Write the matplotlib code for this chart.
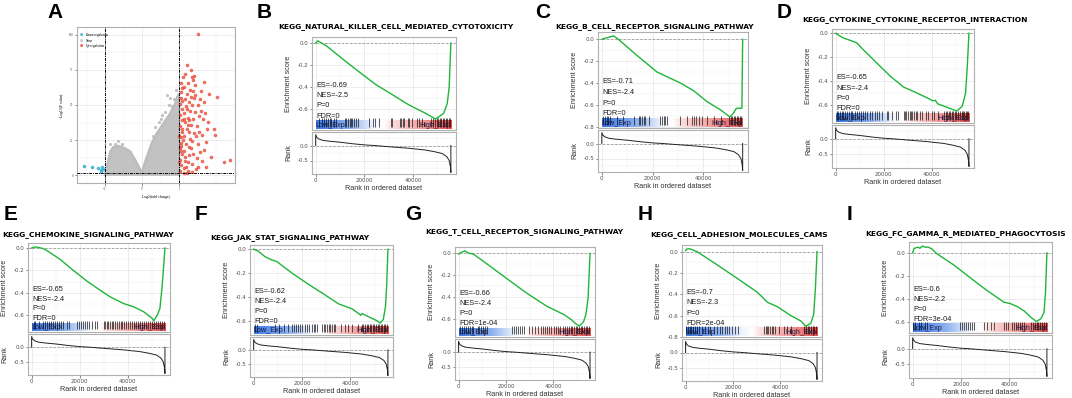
import matplotlib
matplotlib.use("Agg")
import matplotlib.pyplot as plt
import numpy as np
from matplotlib.colors import LinearSegmentedColormap
from matplotlib.ticker import FixedLocator, MultipleLocator, FuncFormatter

W, H = 1072, 398
N_GENES = 55500
XLIM = (-1500, 57600)

# ---------------- panel A: volcano ----------------
# outline of the dense grey "None" cloud (log2FC, -log10 P)
none_outline_x = [-1.0, -0.95, -0.86, -0.78, -0.64, -0.46, -0.32, -0.19, -0.07, 0.0,
                  0.04, 0.13, 0.26, 0.40, 0.58, 0.76, 0.89, 0.98, 1.0, 1.0, -1.0]
none_outline_y = [0.7, 5.9, 16.7, 19.8, 20.7, 19.0, 16.7, 10.7, 4.8, 1.7,
                  5.9, 13.0, 22.6, 29.8, 36.9, 44.0, 51.0, 57.0, 58.0, 0.3, 0.3]
none_x = [0.53, 0.67, 0.76, 0.85, 0.35, -0.64, -0.86, 0.91, 0.95, 0.45, 0.62, -0.72, 0.2,
          0.30, 0.72, 0.50, 0.82, -0.55, -0.90, 0.10]
none_y = [43, 57, 55, 54, 34.5, 24.5, 22, 61, 56, 38, 45, 22, 19,
          28, 50, 40, 49, 22, 13, 11]

up_x = [1.02, 1.05, 1.03, 1.08, 1.02, 1.06, 1.04, 1.09, 1.02, 1.07, 1.03, 1.08, 1.02, 1.05,
        1.04, 1.09, 1.12, 1.15, 1.13, 1.18, 1.14, 1.20, 1.16, 1.12, 1.19, 1.15, 1.22, 1.13,
        1.25, 1.24, 1.28, 1.26, 1.30, 1.27, 1.32, 1.25, 1.30, 1.27, 1.33, 1.29, 1.24, 1.36,
        1.38, 1.35, 1.40, 1.37, 1.42, 1.36, 1.40, 1.38, 1.44, 1.21, 1.31, 1.39, 1.38, 1.66,
        1.44, 1.52, 2.02, 1.79, 1.93, 1.75, 1.97, 1.72, 2.20, 2.38, 1.72, 1.52, 1.57, 1.61,
        1.48, 1.50, 1.47, 1.53, 1.50, 1.56, 1.60, 1.64, 1.55, 1.46, 1.62, 1.58, 1.68, 1.70,
        1.66, 1.10, 1.17, 1.06, 1.34, 1.45, 1.85, 1.80, 1.12, 1.20, 1.35,
        1.01, 1.04, 1.07, 1.11, 1.14, 1.17, 1.21, 1.23, 1.09, 1.01, 1.06, 1.19, 1.28, 1.33]
up_y = [3, 7, 11, 15, 19, 23, 27, 31, 35, 39, 43, 47, 51, 55,
        59, 62, 5, 10, 17, 22, 28, 33, 38, 44, 49, 54, 58, 63,
        3, 9, 14, 20, 26, 31, 36, 41, 46, 52, 56, 61, 66, 8,
        15, 24, 30, 40, 45, 50, 55, 60, 64, 78.6, 75, 71, 68, 66.7,
        57, 101, 55.9, 38, 33, 33, 28.6, 23.8, 9.5, 10.7, 5.9, 6, 16.7, 28.6,
        12, 22, 35, 42, 50, 54, 46, 40, 31, 4, 10, 60, 52, 44,
        18, 70, 72, 66, 70, 28, 13, 58, 1.5, 1.5, 2,
        9, 21, 33, 25, 40, 13, 47, 36, 53, 28, 17, 6, 39, 19]
down_x = [-1.57, -1.35, -1.19, -1.12, -1.08, -1.06, -1.10]
down_y = [6.4, 5.7, 5.0, 3.6, 6.0, 4.3, 2.5]

# ---------------- GSEA panels B..I ----------------
gsea_keys = ["B", "C", "D", "E", "F", "G", "H", "I"]
titles = {
    "B": "KEGG_NATURAL_KILLER_CELL_MEDIATED_CYTOTOXICITY",
    "C": "KEGG_B_CELL_RECEPTOR_SIGNALING_PATHWAY",
    "D": "KEGG_CYTOKINE_CYTOKINE_RECEPTOR_INTERACTION",
    "E": "KEGG_CHEMOKINE_SIGNALING_PATHWAY",
    "F": "KEGG_JAK_STAT_SIGNALING_PATHWAY",
    "G": "KEGG_T_CELL_RECEPTOR_SIGNALING_PATHWAY",
    "H": "KEGG_CELL_ADHESION_MOLECULES_CAMS",
    "I": "KEGG_FC_GAMMA_R_MEDIATED_PHAGOCYTOSIS",
}
stats = {
    "B": ["ES=-0.69", "NES=-2.5", "P=0", "FDR=0"],
    "C": ["ES=-0.71", "NES=-2.4", "P=0", "FDR=0"],
    "D": ["ES=-0.65", "NES=-2.4", "P=0", "FDR=0"],
    "E": ["ES=-0.65", "NES=-2.4", "P=0", "FDR=0"],
    "F": ["ES=-0.62", "NES=-2.4", "P=0", "FDR=0"],
    "G": ["ES=-0.66", "NES=-2.4", "P=0", "FDR=1e-04"],
    "H": ["ES=-0.7", "NES=-2.3", "P=0", "FDR=2e-04"],
    "I": ["ES=-0.6", "NES=-2.2", "P=0", "FDR=3e-04"],
}
# running enrichment score, (rank in thousands, ES)
es_curves = {
    "B": [(0, 0), (0.9, 0.02), (4.4, -0.025), (11.2, -0.147), (17.9, -0.263), (24.6, -0.376),
          (31.4, -0.468), (38.1, -0.56), (44.9, -0.636), (49.2, -0.69), (52.5, -0.64),
          (54.0, -0.55), (54.8, -0.40), (55.5, 0.0)],
    "C": [(0, 0), (1.5, 0.01), (3.0, 0.02), (4.6, 0.031), (6.5, 0.0), (13.8, -0.147),
          (21.8, -0.30), (31.0, -0.40), (36.2, -0.47), (41.5, -0.57), (46.8, -0.645),
          (50.5, -0.71), (52.0, -0.67), (53.0, -0.63), (55.2, -0.63), (55.5, 0.0)],
    "D": [(0, 0), (1.5, -0.02), (3.2, -0.04), (4.7, -0.05), (8.8, -0.08), (11.6, -0.14),
          (17.2, -0.25), (22.8, -0.36), (28.3, -0.45), (33.9, -0.50), (38.1, -0.54),
          (40.5, -0.565), (41.5, -0.56), (42.5, -0.59), (46.5, -0.62), (50.4, -0.65),
          (52.7, -0.61), (54.1, -0.50), (54.8, -0.28), (55.5, 0.0)],
    "E": [(0, 0), (1.3, 0.01), (3.0, 0.005), (4.8, -0.005), (6.2, -0.02), (11.8, -0.10),
          (17.4, -0.20), (23.0, -0.295), (28.6, -0.378), (32.8, -0.437), (38.3, -0.496),
          (42.5, -0.525), (46.7, -0.57), (50.2, -0.628), (50.8, -0.65), (52.3, -0.60),
          (53.4, -0.54), (54.3, -0.35), (55.5, 0.0)],
    "F": [(0, 0), (1.9, -0.016), (4.7, -0.063), (7.5, -0.09), (9.6, -0.104), (15.8, -0.20),
          (22.7, -0.295), (29.6, -0.385), (35.1, -0.459), (40.6, -0.50), (43.4, -0.54),
          (44.3, -0.555), (44.8, -0.54), (48.8, -0.58), (51.0, -0.60), (52.3, -0.62),
          (53.6, -0.59), (54.5, -0.48), (55.0, -0.30), (55.5, 0.0)],
    "G": [(0, -0.005), (1.2, 0.01), (2.7, 0.024), (4.0, 0.005), (4.9, 0.0), (6.3, -0.006),
          (12.0, -0.095), (20.4, -0.229), (28.9, -0.363), (37.4, -0.482), (44.5, -0.556),
          (47.5, -0.60), (49.5, -0.64), (51.0, -0.66), (52.8, -0.62), (53.8, -0.55),
          (54.7, -0.40), (55.5, 0.0)],
    "H": [(0, 0.01), (0.6, 0.025), (1.5, 0.028), (2.7, 0.02), (4.9, 0.0), (13.4, -0.124),
          (21.8, -0.25), (30.3, -0.38), (34.6, -0.475), (38.8, -0.516), (44.5, -0.60),
          (48.7, -0.65), (50.8, -0.70), (52.9, -0.67), (54.1, -0.586), (54.8, -0.35),
          (55.5, 0.0)],
    "I": [(0, 0), (0.5, 0.035), (0.9, 0.042), (2.25, 0.05), (3.0, 0.04), (4.1, 0.06),
          (5.0, 0.05), (6.4, 0.05), (7.8, 0.037), (9.9, -0.006), (16.9, -0.104),
          (23.8, -0.217), (30.8, -0.33), (37.7, -0.43), (40.5, -0.444), (43.3, -0.47),
          (46.0, -0.506), (48.9, -0.563), (51.2, -0.60), (53.0, -0.575), (54.3, -0.52),
          (54.9, -0.35), (55.5, 0.0)],
}
# gene set hit positions (rank in thousands)
hits = {
    "B": [1.5, 2.8, 3.5, 4.2, 5.0, 5.8, 6.5, 7.4, 8.3, 11.9, 12.6, 13.2, 13.9, 14.5, 15.1, 15.8,
          16.5, 17.2, 22.0, 23.5, 24.4, 25.9, 30.8, 31.4, 34.5, 35.1, 35.8, 36.4, 37.8, 38.4,
          39.5, 41.5, 42.4, 43.6, 47.5, 48.3, 49.0, 49.6, 50.2, 50.9, 51.5, 52.1, 52.8, 53.4,
          54.0, 54.6, 55.1],
    "C": [0.6, 1.2, 1.9, 2.6, 3.3, 5.9, 8.5, 12.5, 14.5, 15.2, 15.8, 16.5, 17.1, 18.4, 23.0,
          23.7, 24.4, 25.0, 25.7, 31.0, 33.6, 35.5, 36.3, 37.2, 38.2, 39.6, 41.5, 44.2, 47.0,
          50.3, 50.8, 51.4, 52.0, 52.6, 53.2, 53.8, 54.4, 55.0],
    "D": [0.5, 1.2, 1.8, 2.5, 3.1, 3.9, 4.6, 5.5, 6.2, 7.0, 7.9, 9.0, 9.6, 10.5, 11.5, 12.3,
          13.0, 14.2, 15.0, 16.6, 17.3, 18.0, 19.5, 21.2, 22.0, 23.5, 25.0, 26.0, 28.3, 28.9,
          29.5, 30.2, 30.8, 31.4, 32.0, 32.7, 33.3, 34.0, 35.0, 36.0, 37.5, 38.5, 40.0, 41.0,
          42.5, 45.1, 45.8, 46.4, 47.0, 47.7, 48.3, 49.0, 49.6, 50.3, 51.0, 51.7, 52.4, 53.0,
          53.6, 54.2, 54.8, 55.3],
    "E": [0.8, 1.5, 3.0, 4.8, 5.6, 6.4, 7.2, 8.0, 8.8, 9.6, 10.4, 11.5, 12.3, 13.1, 14.6, 15.4,
          18.8, 19.6, 20.4, 21.3, 22.1, 23.0, 24.0, 25.0, 26.2, 27.2, 30.0, 30.6, 31.3, 32.0,
          32.6, 33.3, 34.0, 34.7, 35.5, 36.3, 37.0, 37.8, 38.6, 39.4, 40.2, 41.0, 41.8, 42.6,
          43.5, 44.3, 45.2, 46.0, 46.9, 47.7, 48.5, 49.4, 50.2, 51.0, 51.8, 52.6, 53.4, 54.2,
          55.0],
    "F": [0.5, 1.2, 9.0, 10.5, 12.5, 14.0, 15.8, 16.6, 17.4, 18.2, 19.0, 19.8, 21.3, 22.0, 22.7,
          24.1, 24.8, 25.5, 26.2, 28.2, 28.9, 29.6, 30.3, 31.0, 31.7, 32.4, 33.1, 33.7, 36.0,
          37.9, 39.0, 40.5, 43.0, 44.8, 45.4, 46.0, 46.7, 47.3, 48.0, 48.6, 49.3, 49.9, 50.6,
          51.2, 51.9, 52.5, 53.2, 53.8, 54.5, 55.1],
    "G": [0.6, 1.5, 2.3, 3.1, 3.9, 4.7, 5.5, 6.3, 8.0, 8.8, 9.6, 10.4, 11.2, 12.0, 22.6, 23.4,
          24.2, 25.0, 25.8, 26.6, 27.5, 29.6, 31.0, 32.2, 33.5, 34.6, 35.6, 36.5, 37.4, 38.3,
          39.2, 40.2, 41.0, 42.0, 43.0, 44.0, 45.0, 45.9, 46.6, 47.3, 48.0, 48.7, 49.4, 50.1,
          50.8, 51.5, 52.2, 52.9, 53.6, 54.3, 55.0],
    "H": [0.3, 1.0, 1.8, 2.5, 3.3, 4.0, 4.8, 5.8, 7.0, 8.3, 9.5, 10.5, 11.8, 13.4, 14.4, 15.4,
          16.5, 17.5, 18.5, 19.6, 20.8, 22.0, 33.2, 33.8, 34.4, 35.0, 35.6, 36.3, 37.0, 37.8,
          39.5, 41.5, 43.0, 44.4, 50.1, 50.8, 51.5, 52.2, 52.9, 53.6, 54.3, 55.0],
    "I": [0.3, 1.0, 2.5, 3.5, 5.0, 5.8, 19.6, 20.4, 21.2, 22.0, 22.8, 23.6, 24.4, 25.2, 29.4,
          30.6, 32.3, 33.5, 37.7, 38.6, 39.5, 41.0, 41.8, 42.6, 43.4, 44.2, 45.2, 46.0, 48.8,
          49.6, 50.4, 51.2, 52.0, 52.8, 53.6, 54.4, 55.2],
}
# ranked list metric (rank in thousands, value)
rank_k = [0, 0, 0.4, 1.2, 3, 6, 10, 15, 20, 24, 30, 38, 45, 49, 52, 53.8, 54.8, 55.3, 55.5, 55.5]
rank_v = [0, 0.36, 0.28, 0.22, 0.17, 0.14, 0.11, 0.06, 0.02, 0.0, -0.04, -0.09, -0.15, -0.21,
          -0.27, -0.37, -0.5, -0.7, -0.9, 0.0]

# layout in pixels: left, top, right, es_bottom, rank_top, rank_bottom
boxes = {
    "B": (312, 37, 456, 130, 132, 174),
    "C": (598, 32, 748, 128, 130, 172),
    "D": (832, 29, 974, 123, 125, 168),
    "E": (28, 243, 170, 332, 334, 375),
    "F": (250, 245, 393, 335, 337, 377),
    "G": (455, 247, 595, 337, 339, 380),
    "H": (682, 245, 822, 337, 339, 381),
    "I": (909, 242, 1052, 333, 335, 378),
}
title_pos = {"B": (278, 27.7), "C": (555, 27.7), "D": (802, 20.7), "E": (2, 236),
             "F": (210, 239), "G": (425, 232.7), "H": (650, 235.7), "I": (865, 234.7)}
letter_pos = {"A": (47, 18), "B": (257, 18), "C": (535, 18), "D": (777, 18), "E": (4, 220),
              "F": (195, 220), "G": (405, 220), "H": (638, 220), "I": (847, 220)}

GREEN = "#1fb53a"
BORDER = "#b0b0b0"
SANS = ["Liberation Sans", "DejaVu Sans"]
band_cmap = LinearSegmentedColormap.from_list(
    "band", [(0.0, "#3a78e6"), (0.25, "#8fb2f0"), (0.42, "#eef3fc"), (0.5, "#ffffff"),
             (0.56, "#fbe0e0"), (0.72, "#f4b0b0"), (1.0, "#e8504a")])


def px_rect(l, t, r, b):
    return [l / W, 1 - b / H, (r - l) / W, (b - t) / H]


def style(ax, labelsize=4.0):
    ax.set_facecolor("white")
    for s in ax.spines.values():
        s.set_color(BORDER)
        s.set_linewidth(0.8)
    ax.grid(which="major", color="#e4e4e4", lw=0.5)
    ax.grid(which="minor", color="#f1f1f1", lw=0.35)
    ax.set_axisbelow(True)
    ax.tick_params(which="major", length=1.8, width=0.5, color="#555555",
                   labelsize=labelsize, labelcolor="#4d4d4d", pad=1)
    ax.tick_params(which="minor", length=0)


def one_dec(v, _pos):
    return f"{v:.1f}"


fig = plt.figure(figsize=(W / 100, H / 100), dpi=100)

# ---- volcano ----
axA = fig.add_axes(px_rect(77, 27, 235, 183))
style(axA, labelsize=2.3)
axA.fill(none_outline_x, none_outline_y, color="#c2c2c2", lw=1.8, ec="#bdbdbd", zorder=2)
axA.scatter(none_x, none_y, s=4, color="#c2c2c2", ec="#b0b0b0", lw=0.2, zorder=2)
axA.scatter(up_x, up_y, s=5, color="#f05a45", ec="#e03a2a", lw=0.25, alpha=0.85, zorder=3)
axA.scatter(down_x, down_y, s=5, color="#4cb8da", ec="#3aa8ca", lw=0.25, zorder=3)
for xv in (-1, 1):
    axA.axvline(xv, color="black", lw=0.7, ls=(0, (3, 1, 1, 1)), zorder=4)
axA.axhline(1.3, color="black", lw=0.7, ls=(0, (3, 1, 1, 1)), zorder=4)
axA.set_xlim(-1.76, 2.51)
axA.set_ylim(-5.7, 105.7)
axA.xaxis.set_major_locator(FixedLocator([-1, 0, 1]))
axA.yaxis.set_major_locator(FixedLocator([0, 25, 50, 75, 100]))
axA.xaxis.set_minor_locator(MultipleLocator(0.5))
axA.yaxis.set_minor_locator(MultipleLocator(12.5))
for lab in axA.get_xticklabels() + axA.get_yticklabels():
    lab.set_family("Liberation Serif")
axA.set_xlabel("Log$_2$(fold change)", fontsize=2.8, family="Liberation Serif", labelpad=1.5)
axA.set_ylabel("-Log$_{10}$(P value)", fontsize=2.8, family="Liberation Serif", labelpad=1.5)
for i, (lab, col) in enumerate([("Down-regulation", "#4cb8da"), ("None", "#c2c2c2"),
                                ("Up-regulation", "#f05a45")]):
    yy = 35 + i * 5.5
    fig.text(81.7 / W, 1 - yy / H, "\u25CF", color=col, fontsize=2.6, ha="center", va="center")
    fig.text(86 / W, 1 - yy / H, lab, fontsize=2.4, family="Liberation Serif",
             ha="left", va="center")

# ---- GSEA panels ----
gradient = np.linspace(0, 1, 256)[None, :]
rank_x = np.array(rank_k) * 1000
rank_y = np.array(rank_v)

for key in gsea_keys:
    l, t, r, b_es, t_rank, b_rank = boxes[key]
    ax = fig.add_axes(px_rect(l, t, r, b_es))
    ax2 = fig.add_axes(px_rect(l, t_rank, r, b_rank))
    style(ax)
    style(ax2)

    knots = np.array(es_curves[key])
    ex, ey = knots[:, 0] * 1000, knots[:, 1]
    lo, hi = ey.min() - 0.10, ey.max() + 0.035
    span = hi - lo

    ax.axhline(0, color="#9a9a9a", ls=(0, (3, 2)), lw=0.6, zorder=1)
    ax.plot(ex, ey, color=GREEN, lw=1.0, zorder=4)
    ax.imshow(gradient, cmap=band_cmap, aspect="auto", interpolation="bilinear",
              extent=(0, N_GENES, lo + 0.012 * span, lo + 0.10 * span), zorder=2)
    ax.vlines(np.array(hits[key]) * 1000, lo + 0.035 * span, lo + 0.125 * span,
              color="black", lw=0.45, zorder=3)
    ax.text(0, lo + 0.052 * span, "Low_Exp", fontsize=5.2, family=SANS,
            color="#1a1a40", ha="left", va="center", zorder=5)
    ax.text(N_GENES, lo + 0.052 * span, "High_Exp", fontsize=5.2, family=SANS,
            color="#1a1a40", ha="right", va="center", zorder=5)
    for txt, fy in zip(stats[key], (0.48, 0.37, 0.26, 0.15)):
        ax.text(0.03, fy, txt, transform=ax.transAxes, fontsize=5.3, family=SANS,
                color="#1a1a1a", ha="left", va="center", zorder=5)

    ax.set_xlim(XLIM)
    ax.set_ylim(lo, hi)
    ax.xaxis.set_major_locator(FixedLocator([0, 20000, 40000]))
    ax.xaxis.set_minor_locator(FixedLocator([10000, 30000, 50000]))
    ax.yaxis.set_major_locator(MultipleLocator(0.2))
    ax.yaxis.set_minor_locator(MultipleLocator(0.1))
    ax.yaxis.set_major_formatter(FuncFormatter(one_dec))
    ax.tick_params(axis="x", labelbottom=False, length=0)
    ax.set_ylabel("Enrichment score", fontsize=5.2, family=SANS, color="#333333")

    ax2.axhline(0, color="#9a9a9a", ls=(0, (3, 2)), lw=0.6, zorder=1)
    ax2.plot(rank_x, rank_y, color="#222222", lw=0.7, zorder=3)
    ax2.set_xlim(XLIM)
    ax2.set_ylim(-0.95, 0.45)
    ax2.xaxis.set_major_locator(FixedLocator([0, 20000, 40000]))
    ax2.xaxis.set_minor_locator(FixedLocator([10000, 30000, 50000]))
    ax2.yaxis.set_major_locator(FixedLocator([0.0, -0.5]))
    ax2.yaxis.set_minor_locator(FixedLocator([0.25, -0.25, -0.75]))
    ax2.yaxis.set_major_formatter(FuncFormatter(one_dec))
    ax2.xaxis.set_major_formatter(FuncFormatter(lambda v, p: f"{int(v)}"))
    ax2.set_ylabel("Rank", fontsize=5.2, family=SANS, color="#333333")
    ax2.set_xlabel("Rank in ordered dataset", fontsize=5.2, family=SANS, color="#333333",
                   labelpad=1.5)
    # y labels sit about 20 px left of the panel frame
    lab_x = -20.0 / (r - l)
    ax.yaxis.set_label_coords(lab_x, 0.5)
    ax2.yaxis.set_label_coords(lab_x, 0.5)

    tx, ty = title_pos[key]
    fig.text(tx / W, 1 - ty / H, titles[key], fontsize=5.4, fontweight="bold",
             family="DejaVu Sans", ha="left", va="baseline")

for key, (lx, ly) in letter_pos.items():
    fig.text(lx / W, 1 - ly / H, key, fontsize=15, fontweight="bold",
             family="Liberation Sans", ha="left", va="baseline")

fig.savefig("out.png", dpi=100, facecolor="white")
